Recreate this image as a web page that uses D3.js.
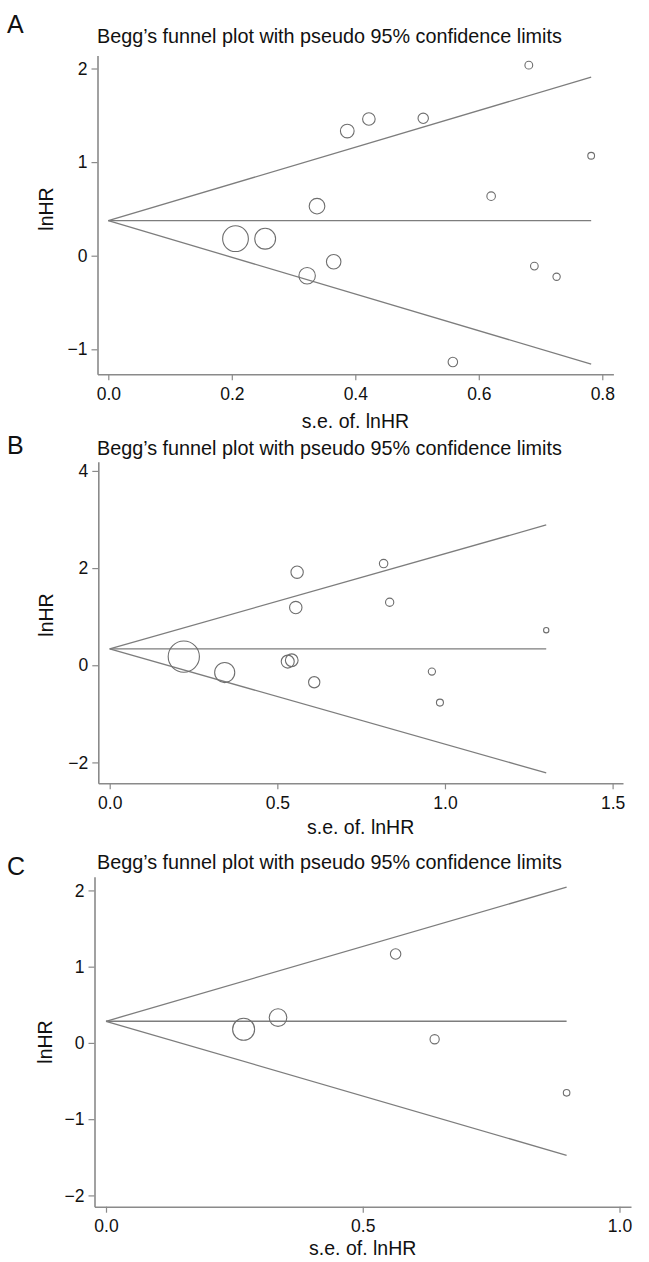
<!DOCTYPE html>
<html><head><meta charset="utf-8">
<script src="https://cdn.jsdelivr.net/npm/d3@7"></script>
<style>body{margin:0;background:#fff}svg{display:block}</style>
</head><body>
<svg id="chart" width="649" height="1262"></svg>
<script>
// ---------- data ----------
const panelLetters = ["A", "B", "C"];
const titleText = "Begg’s funnel plot with pseudo 95% confidence limits";
const xLabel = "s.e. of. lnHR";
const yLabel = "lnHR";
const zCrit = 1.96;

// Panel A
const seA   = [0.681, 0.387, 0.422, 0.510, 0.782, 0.620, 0.338, 0.206, 0.254, 0.365, 0.322, 0.690, 0.726, 0.558];
const lnhrA = [2.036, 1.332, 1.461, 1.468, 1.068, 0.636, 0.529, 0.182, 0.182, -0.064, -0.214, -0.111, -0.225, -1.136];
const pooledA = 0.375;
const xTicksA = [0, 0.2, 0.4, 0.6, 0.8];
const yTicksA = [-1, 0, 1, 2];

// Panel B
const seB   = [0.559, 0.555, 0.817, 0.835, 1.302, 0.221, 0.343, 0.531, 0.543, 0.610, 0.961, 0.985];
const lnhrB = [1.915, 1.187, 2.093, 1.297, 0.721, 0.178, -0.151, 0.075, 0.103, -0.350, -0.130, -0.769];
const pooledB = 0.336;
const xTicksB = [0, 0.5, 1.0, 1.5];
const yTicksB = [-2, 0, 2, 4];

// Panel C
const seC   = [0.564, 0.335, 0.268, 0.640, 0.897];
const lnhrC = [1.166, 0.332, 0.179, 0.048, -0.655];
const pooledC = 0.284;
const xTicksC = [0, 0.5, 1.0];
const yTicksC = [-2, -1, 0, 1, 2];

// ---------- layout / style ----------
const FONT = "'Liberation Sans', Arial, Helvetica, sans-serif";
const panels = [
  { letter: panelLetters[0], se: seA, y: lnhrA, pooled: pooledA, xt: xTicksA, yt: yTicksA,
    xDom: [-0.0175, 0.818], xRange: [97.5, 613.4], yDom: [-1.267, 2.14], yRange: [374.3, 55.4],
    k: 2.65, letterY: 33, titleY: 43.3, xLabY: 428, yLabX: 53, yLabY: 209 },
  { letter: panelLetters[1], se: seB, y: lnhrB, pooled: pooledB, xt: xTicksB, yt: yTicksB,
    xDom: [-0.034, 1.531], xRange: [98.3, 623], yDom: [-2.43, 4.19], yRange: [783.3, 461.7],
    k: 3.45, letterY: 454, titleY: 455, xLabY: 834, yLabX: 53, yLabY: 615 },
  { letter: panelLetters[2], se: seC, y: lnhrC, pooled: pooledC, xt: xTicksC, yt: yTicksC,
    xDom: [-0.0224, 1.0224], xRange: [94.5, 631], yDom: [-2.148, 2.18], yRange: [1206.7, 876.7],
    k: 2.95, letterY: 875, titleY: 869, xLabY: 1255, yLabX: 52, yLabY: 1042 }
];

const svg = d3.select("#chart");
svg.append("rect").attr("width", 649).attr("height", 1262).attr("fill", "#fff");

panels.forEach(p => {
  const g = svg.append("g");
  const x = d3.scaleLinear().domain(p.xDom).range(p.xRange);
  const y = d3.scaleLinear().domain(p.yDom).range(p.yRange);
  const r = d3.scaleSqrt().domain([0, 1]).range([0, p.k]);   // marker area ∝ weight 1/se²

  // panel letter
  g.append("text").attr("x", 7).attr("y", p.letterY)
    .attr("font-family", FONT).attr("font-size", 25).attr("fill", "#111")
    .text(p.letter);

  // title
  g.append("text").attr("x", 97).attr("y", p.titleY)
    .attr("font-family", FONT).attr("font-size", 19.8).attr("fill", "#111")
    .text(titleText);

  // axes
  const xAxis = d3.axisBottom(x).tickValues(p.xt).tickFormat(d3.format(".1f"))
    .tickSize(6).tickPadding(7).tickSizeOuter(0);
  const yAxis = d3.axisLeft(y).tickValues(p.yt).tickFormat(d3.format("d"))
    .tickSize(6).tickPadding(4).tickSizeOuter(0);

  const gx = g.append("g").attr("transform", `translate(0,${p.yRange[0]})`).call(xAxis);
  const gy = g.append("g").attr("transform", `translate(${p.xRange[0]},0)`).call(yAxis);
  [gx, gy].forEach(a => {
    a.selectAll("path.domain").attr("stroke", "#8a8a8a").attr("stroke-width", 1.6);
    a.selectAll(".tick line").attr("stroke", "#8a8a8a").attr("stroke-width", 1.2);
    a.selectAll(".tick text").attr("font-family", FONT).attr("font-size", 17.5).attr("fill", "#111");
  });

  // axis labels
  g.append("text")
    .attr("x", (p.xRange[0] + p.xRange[1]) / 2).attr("y", p.xLabY)
    .attr("text-anchor", "middle")
    .attr("font-family", FONT).attr("font-size", 19.5).attr("fill", "#111")
    .text(xLabel);
  g.append("text")
    .attr("transform", `translate(${p.yLabX},${p.yLabY}) rotate(-90)`)
    .attr("text-anchor", "middle")
    .attr("font-family", FONT).attr("font-size", 19.5).attr("fill", "#111")
    .text(yLabel);

  // funnel (pooled estimate ± 1.96·se from se = 0 to max se)
  const maxSe = d3.max(p.se);
  const line = d3.line().x(d => x(d[0])).y(d => y(d[1]));
  const funnel = [
    [[0, p.pooled], [maxSe, p.pooled + zCrit * maxSe]],
    [[0, p.pooled], [maxSe, p.pooled]],
    [[0, p.pooled], [maxSe, p.pooled - zCrit * maxSe]]
  ];
  g.append("g").selectAll("path").data(funnel).join("path")
    .attr("d", line).attr("fill", "none")
    .attr("stroke", "#7d7d7d").attr("stroke-width", 1.3);

  // study markers
  const pts = p.se.map((s, i) => ({ se: s, v: p.y[i] }));
  g.append("g").selectAll("circle").data(pts).join("circle")
    .attr("cx", d => x(d.se)).attr("cy", d => y(d.v))
    .attr("r", d => r(1 / (d.se * d.se)))
    .attr("fill", "none").attr("stroke", "#6e6e6e").attr("stroke-width", 1.1);
});
</script>
</body></html>
